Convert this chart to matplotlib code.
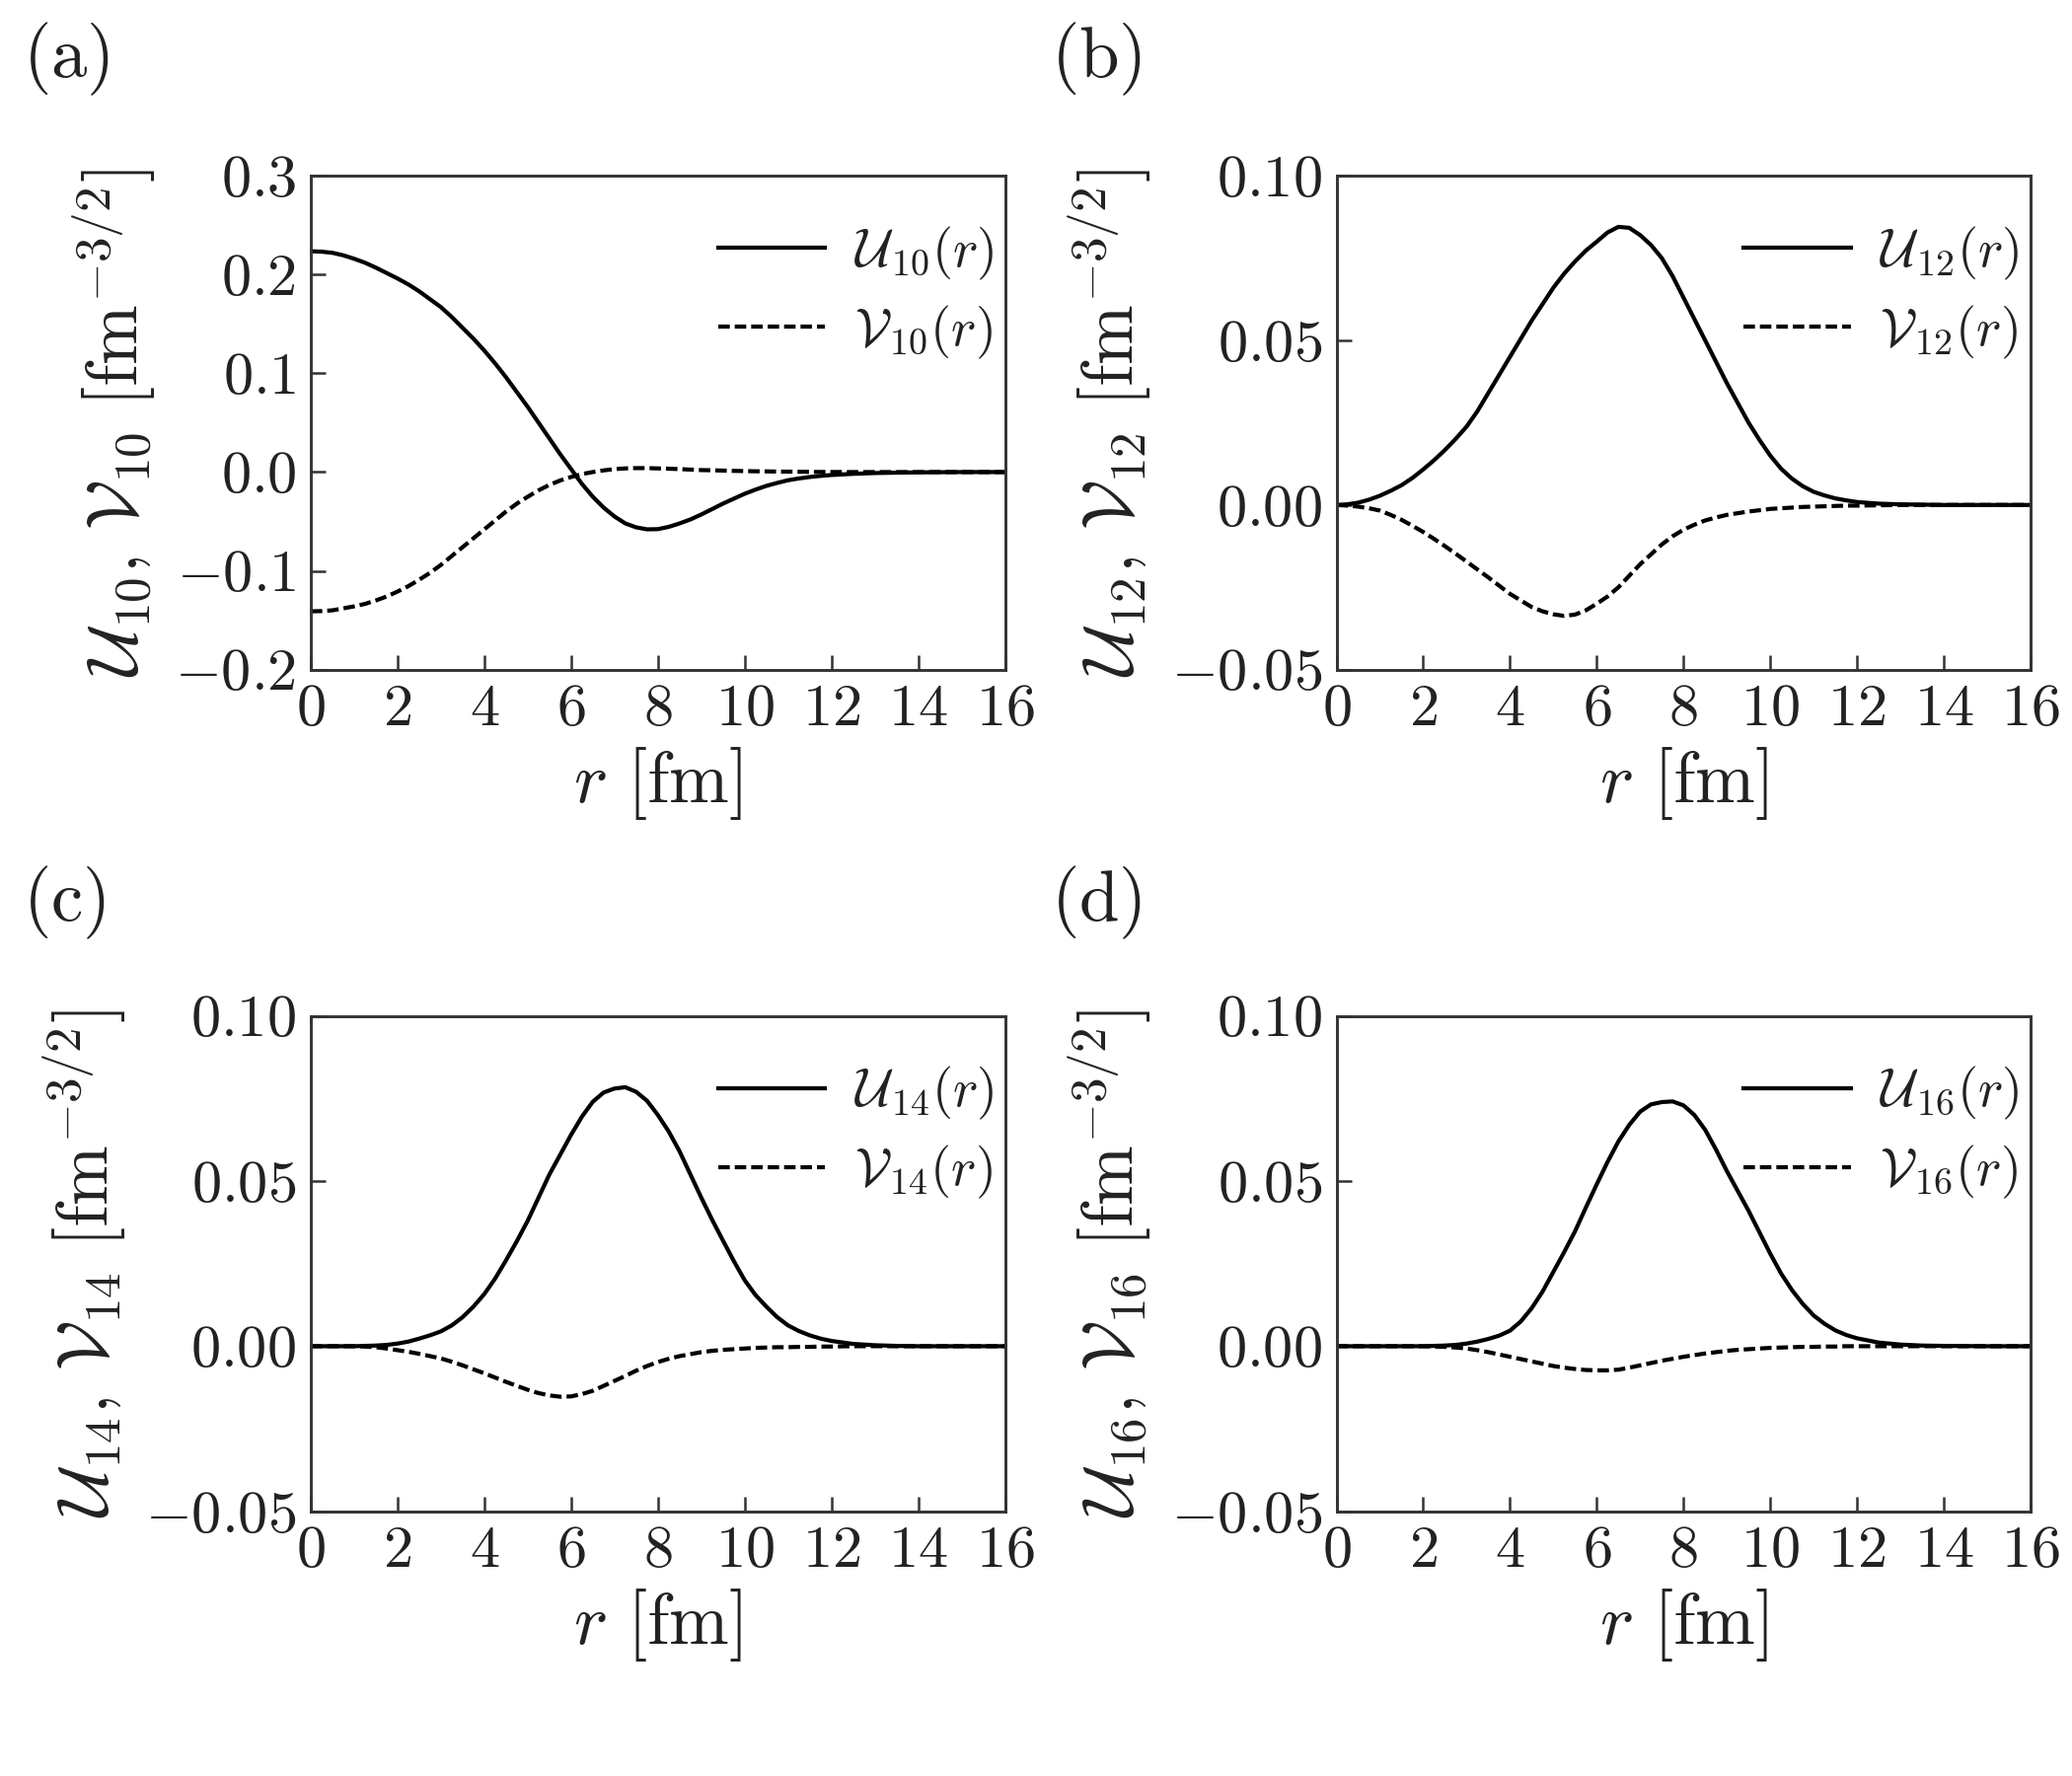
import numpy as np
import matplotlib
matplotlib.use('Agg')
import matplotlib.pyplot as plt

# Configuração de fontes (estilo LaTeX / Computer Modern)
plt.rcParams['mathtext.fontset'] = 'cm'
plt.rcParams['font.family'] = 'serif'
plt.rcParams['font.serif'] = ['cmr10', 'DejaVu Serif']
plt.rcParams['axes.unicode_minus'] = False

# ---- dados ----
# r = 0, 0.25, ..., 11.75 (4 por linha), depois 12, 12.5, 13, 13.5, 14, 15, 16
r = [0.0, 0.25, 0.5, 0.75, 1.0, 1.25, 1.5, 1.75, 2.0, 2.25, 2.5, 2.75,
     3.0, 3.25, 3.5, 3.75, 4.0, 4.25, 4.5, 4.75, 5.0, 5.25, 5.5, 5.75,
     6.0, 6.25, 6.5, 6.75, 7.0, 7.25, 7.5, 7.75, 8.0, 8.25, 8.5, 8.75,
     9.0, 9.25, 9.5, 9.75, 10.0, 10.25, 10.5, 10.75, 11.0, 11.25, 11.5, 11.75,
     12.0, 12.5, 13.0, 13.5, 14.0, 15.0, 16.0]

U10 = [0.2236, 0.2232, 0.222, 0.2195,
       0.216, 0.212, 0.207, 0.2015,
       0.196, 0.190, 0.183, 0.175,
       0.167, 0.157, 0.146, 0.135,
       0.123, 0.110, 0.096, 0.081,
       0.066, 0.050, 0.034, 0.018,
       0.003, -0.012, -0.025, -0.036,
       -0.045, -0.052, -0.056, -0.058,
       -0.0578, -0.0555, -0.052, -0.048,
       -0.043, -0.0375, -0.032, -0.027,
       -0.022, -0.0178, -0.014, -0.011,
       -0.0083, -0.0065, -0.005, -0.0039,
       -0.003, -0.0018, -0.001, -0.0006, -0.0003, 0.0, 0.0]
V10 = [-0.141, -0.1408, -0.140, -0.138,
       -0.136, -0.1335, -0.130, -0.126,
       -0.121, -0.1155, -0.109, -0.102,
       -0.094, -0.085, -0.076, -0.067,
       -0.058, -0.049, -0.040, -0.032,
       -0.025, -0.0185, -0.013, -0.0085,
       -0.005, -0.002, 0.0, 0.0017,
       0.003, 0.0037, 0.004, 0.004,
       0.0037, 0.0034, 0.003, 0.0025,
       0.002, 0.0018, 0.0015, 0.0012,
       0.001, 0.0008, 0.0007, 0.0005,
       0.0004, 0.0003, 0.0002, 0.0001,
       0.0001, 0.0, 0.0, 0.0, 0.0, 0.0, 0.0]

U12 = [0.0, 0.0002, 0.0007, 0.0016,
       0.0028, 0.0043, 0.006, 0.0082,
       0.0108, 0.0136, 0.0167, 0.0201,
       0.0238, 0.0285, 0.034, 0.0395,
       0.045, 0.0505, 0.056, 0.061,
       0.066, 0.0703, 0.074, 0.0773,
       0.080, 0.0828, 0.0845, 0.0842,
       0.082, 0.079, 0.075, 0.0695,
       0.063, 0.0565, 0.050, 0.0435,
       0.037, 0.031, 0.025, 0.0198,
       0.015, 0.011, 0.008, 0.0057,
       0.004, 0.0029, 0.002, 0.0014,
       0.0009, 0.0004, 0.0002, 0.0001, 0.0, 0.0, 0.0]
V12 = [0.0, -0.0002, -0.0005, -0.001,
       -0.0017, -0.003, -0.0045, -0.0063,
       -0.0082, -0.0103, -0.0125, -0.0148,
       -0.0172, -0.0196, -0.022, -0.0245,
       -0.027, -0.029, -0.031, -0.0323,
       -0.0332, -0.0337, -0.0333, -0.032,
       -0.030, -0.0278, -0.025, -0.0215,
       -0.018, -0.015, -0.012, -0.0095,
       -0.0075, -0.006, -0.0047, -0.0038,
       -0.003, -0.0025, -0.002, -0.0016,
       -0.0012, -0.001, -0.0008, -0.0006,
       -0.0005, -0.0004, -0.0003, -0.0002,
       -0.0002, -0.0001, 0.0, 0.0, 0.0, 0.0, 0.0]

U14 = [0.0, 0.0, 0.0, 0.0,
       0.0, 0.0001, 0.0002, 0.0004,
       0.0008, 0.0014, 0.0023, 0.0033,
       0.0045, 0.0063, 0.0088, 0.012,
       0.0158, 0.0205, 0.026, 0.0318,
       0.038, 0.045, 0.052, 0.058,
       0.064, 0.0695, 0.074, 0.0768,
       0.078, 0.0784, 0.077, 0.0743,
       0.070, 0.065, 0.059, 0.052,
       0.045, 0.0383, 0.032, 0.0258,
       0.020, 0.0155, 0.012, 0.0088,
       0.0063, 0.0046, 0.0033, 0.0023,
       0.0016, 0.0007, 0.0003, 0.0001, 0.0, 0.0, 0.0]
V14 = [0.0, 0.0, 0.0, 0.0,
       0.0, -0.0001, -0.0003, -0.0007,
       -0.0012, -0.0017, -0.0023, -0.003,
       -0.0037, -0.0047, -0.0058, -0.007,
       -0.0082, -0.0095, -0.0108, -0.012,
       -0.0132, -0.0142, -0.0149, -0.0153,
       -0.0152, -0.0145, -0.0135, -0.012,
       -0.0105, -0.009, -0.0074, -0.006,
       -0.0048, -0.0038, -0.003, -0.0024,
       -0.0018, -0.0014, -0.0011, -0.0009,
       -0.0007, -0.0005, -0.0004, -0.0003,
       -0.0003, -0.0002, -0.0002, -0.0001,
       -0.0001, 0.0, 0.0, 0.0, 0.0, 0.0, 0.0]

U16 = [0.0, 0.0, 0.0, 0.0,
       0.0, 0.0, 0.0, 0.0,
       0.0, 0.0001, 0.0002, 0.0004,
       0.0008, 0.0014, 0.0022, 0.0032,
       0.0047, 0.0075, 0.0115, 0.0165,
       0.0225, 0.0285, 0.0348, 0.042,
       0.049, 0.0558, 0.062, 0.067,
       0.071, 0.0732, 0.0739, 0.0741,
       0.0729, 0.070, 0.0655, 0.0595,
       0.053, 0.047, 0.041, 0.0345,
       0.028, 0.022, 0.017, 0.0128,
       0.0093, 0.0068, 0.0048, 0.0034,
       0.0024, 0.0011, 0.0005, 0.0002, 0.0001, 0.0, 0.0]
V16 = [0.0, 0.0, 0.0, 0.0,
       0.0, 0.0, 0.0, 0.0,
       0.0, -0.0001, -0.0002, -0.0004,
       -0.0007, -0.0012, -0.0018, -0.0025,
       -0.0032, -0.0039, -0.0046, -0.0053,
       -0.006, -0.0065, -0.0069, -0.0072,
       -0.0073, -0.0073, -0.0071, -0.0065,
       -0.0058, -0.0051, -0.0044, -0.0038,
       -0.0032, -0.0027, -0.0022, -0.0018,
       -0.0014, -0.0011, -0.0009, -0.0007,
       -0.0005, -0.0004, -0.0003, -0.0002,
       -0.0002, -0.0001, -0.0001, 0.0,
       0.0, 0.0, 0.0, 0.0, 0.0, 0.0, 0.0]

indices = ['10', '12', '14', '16']
curvas_U = [U10, U12, U14, U16]
curvas_V = [V10, V12, V14, V16]
letras = ['(a)', '(b)', '(c)', '(d)']

xticks = [0, 2, 4, 6, 8, 10, 12, 14, 16]
yticks_a = [-0.2, -0.1, 0.0, 0.1, 0.2, 0.3]
yticklabels_a = ['$-0.2$', '$-0.1$', '$0.0$', '$0.1$', '$0.2$', '$0.3$']
yticks_b = [-0.05, 0.0, 0.05, 0.10]
yticklabels_b = ['$-0.05$', '$0.00$', '$0.05$', '$0.10$']

# ---- figura ----
fig = plt.figure(figsize=(7, 6), dpi=300)

posicoes = [[0.150, 0.623, 0.335, 0.278],
            [0.645, 0.623, 0.335, 0.278],
            [0.150, 0.149, 0.335, 0.279],
            [0.645, 0.149, 0.335, 0.279]]
pos_letras = [(0.011, 0.967), (0.507, 0.967), (0.011, 0.492), (0.507, 0.492)]

cor_texto = '#222222'

for i in range(4):
    ax = fig.add_axes(posicoes[i])
    n = indices[i]
    ax.plot(r, curvas_U[i], color='black', lw=1.0,
            label=r'$\mathcal{U}_{%s}(r)$' % n)
    ax.plot(r, curvas_V[i], color='black', lw=1.0, linestyle=(0, (2.8, 1.2)),
            label=r'$\mathcal{V}_{%s}(r)$' % n)

    ax.set_xlim(0, 16)
    ax.set_xticks(xticks)
    ax.set_xticklabels(['$%d$' % t for t in xticks])
    if i == 0:
        ax.set_ylim(-0.2, 0.3)
        ax.set_yticks(yticks_a)
        ax.set_yticklabels(yticklabels_a)
    else:
        ax.set_ylim(-0.05, 0.10)
        ax.set_yticks(yticks_b)
        ax.set_yticklabels(yticklabels_b)

    ax.tick_params(direction='in', length=3.5, width=0.6, labelsize=14.5,
                   colors='#333333', labelcolor=cor_texto)
    for s in ax.spines.values():
        s.set_linewidth(0.7)
        s.set_color('#333333')

    ax.set_xlabel(r'$r\ [\mathrm{fm}]$', fontsize=17.5, color=cor_texto, labelpad=2)
    ax.set_ylabel(r'$\mathcal{U}_{%s},\,\mathcal{V}_{%s}\ [\mathrm{fm}^{-3/2}]$' % (n, n),
                  fontsize=17.5, color=cor_texto, labelpad=4)

    ax.legend(loc='upper right', frameon=False, fontsize=13, handlelength=2.0,
              handletextpad=0.55, labelspacing=0.4, borderaxespad=0.1,
              bbox_to_anchor=(1.023, 0.955), labelcolor=cor_texto)

    fig.text(pos_letras[i][0], pos_letras[i][1], r'$\mathrm{%s}$' % letras[i],
             fontsize=17.5, va='center', ha='left', color=cor_texto)

plt.savefig('out.png', dpi=300)
